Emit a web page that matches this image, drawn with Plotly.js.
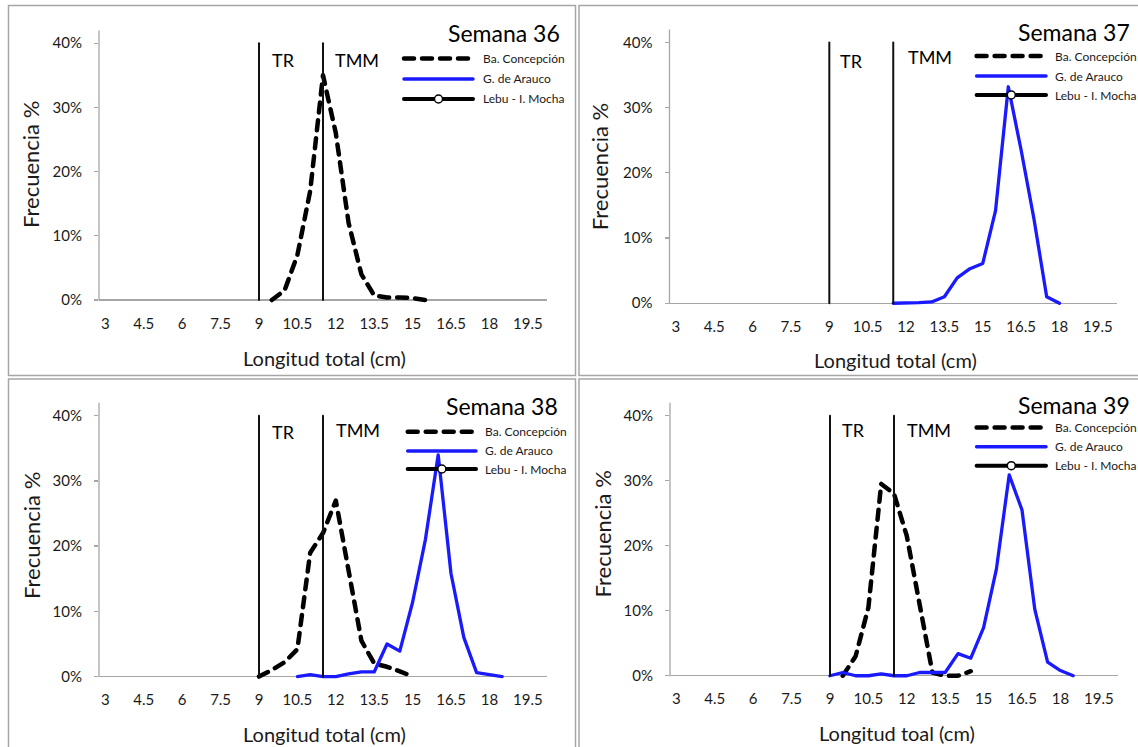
<!DOCTYPE html>
<html><head><meta charset="utf-8">
<script src="https://cdn.plot.ly/plotly-3.0.1.min.js"></script>
<style>
html,body{margin:0;padding:0;background:#fff;}
#chart{width:1138px;height:747px;}
.scatterlayer .js-line{stroke-linecap:round;stroke-linejoin:round;}
.shapelayer path{stroke-linecap:round;}
</style></head><body><div id="chart"></div>
<script>
// ---------- data ----------
const xTickVals = [3, 4.5, 6, 7.5, 9, 10.5, 12, 13.5, 15, 16.5, 18, 19.5];
const yTickVals = [0, 10, 20, 30, 40];
const yTickText = ['0%', '10%', '20%', '30%', '40%'];
const weekTitles = ['Semana 36', 'Semana 37', 'Semana 38', 'Semana 39'];
const xTitles = ['Longitud total (cm)', 'Longitud total (cm)', 'Longitud total (cm)', 'Longitud toal (cm)'];
const yTitle = 'Frecuencia %';
const seriesNames = ['Ba. Concepción', 'G. de Arauco', 'Lebu - I. Mocha'];
const refLineNames = ['TR', 'TMM'];
const refLineValues = [9, 11.5];

// Semana 36
const s36ConcX = [9.5, 10, 10.5, 11, 11.5, 12, 12.5, 13, 13.5, 14, 14.5, 15, 15.5];
const s36ConcY = [0, 1.5, 7, 17, 35, 26, 12, 4, 0.7, 0.4, 0.4, 0.3, 0];
const s36ArauX = [];
const s36ArauY = [];
// Semana 37
const s37ConcX = [];
const s37ConcY = [];
const s37ArauX = [11.5, 12, 12.5, 13, 13.5, 14, 14.5, 15, 15.5, 16, 16.5, 17, 17.5, 18];
const s37ArauY = [0, 0, 0.1, 0.2, 1.0, 3.9, 5.3, 6.1, 14.2, 33.2, 23.5, 13, 1.0, 0];
// Semana 38
const s38ConcX = [9, 9.5, 10, 10.5, 11, 11.5, 12, 12.5, 13, 13.5, 14, 14.5, 15];
const s38ConcY = [0, 1.0, 2.2, 4.2, 19, 22, 27, 16.5, 5.5, 2.0, 1.5, 0.8, 0];
const s38ArauX = [10.5, 11, 11.5, 12, 12.5, 13, 13.5, 14, 14.5, 15, 15.5, 16, 16.5, 17, 17.5, 18, 18.5];
const s38ArauY = [0, 0.3, 0, 0, 0.4, 0.7, 0.7, 5.0, 3.9, 11.4, 21, 34, 15.8, 6, 0.6, 0.3, 0];
// Semana 39
const s39ConcX = [9.5, 10, 10.5, 11, 11.5, 12, 12.5, 13, 13.5, 14, 14.5];
const s39ConcY = [0, 3, 10.5, 29.5, 28, 21.5, 11, 0.5, 0, 0, 0.7];
const s39ArauX = [9, 9.5, 10, 10.5, 11, 11.5, 12, 12.5, 13, 13.5, 14, 14.5, 15, 15.5, 16, 16.5, 17, 17.5, 18, 18.5];
const s39ArauY = [0, 0.5, 0, 0, 0.3, 0, 0, 0.5, 0.5, 0.5, 3.4, 2.7, 7.4, 16.4, 30.9, 25.5, 10.2, 2.1, 0.8, 0];
// Lebu - I. Mocha (no catches shown)
const lebuX = [];
const lebuY = [];

const concData = [[s36ConcX, s36ConcY], [s37ConcX, s37ConcY], [s38ConcX, s38ConcY], [s39ConcX, s39ConcY]];
const arauData = [[s36ArauX, s36ArauY], [s37ArauX, s37ArauY], [s38ArauX, s38ArauY], [s39ArauX, s39ArauY]];

// ---------- layout geometry (pixels) ----------
const W = 1138, H = 747;
const px = v => v / W, py = v => 1 - v / H;
const FONT = 'Lato, "Open Sans", sans-serif';
const TXT = '#1a1a1a';
const AXC = '#a6a6a6';
const BLUE = '#1a1aff';

const panels = [
  {plot: [99, 547, 30.4, 304.5], frame: [8.5, 575.5, 5.5, 375.5], title: [561.6, 33], tr: [270, 60], tmm: [332.6, 60],
   leg: {x0: 404, x1: 473, tx: 481, rows: [58.5, 79, 99]}, yt: [31, 165], xt: [324, 358]},
  {plot: [669.5, 1117, 29.4, 307.8], frame: [579, 1142, 5.5, 375.5], title: [1131.6, 32], tr: [838, 60.7], tmm: [905.5, 57.5],
   leg: {x0: 976.6, x1: 1046, tx: 1053, rows: [56, 76, 95]}, yt: [599.5, 166.7], xt: [895, 360]},
  {plot: [99, 547, 402.7, 681.1], frame: [8.5, 575.5, 379, 752], title: [559.8, 405.5], tr: [270, 431.7], tmm: [333.7, 430],
   leg: {x0: 407.7, x1: 476, tx: 483, rows: [431.7, 451, 469]}, yt: [31, 536], xt: [324.6, 734]},
  {plot: [670, 1118, 402.7, 680.3], frame: [579, 1142, 379, 752], title: [1131.6, 405], tr: [840, 430], tmm: [904.8, 430],
   leg: {x0: 976.6, x1: 1046, tx: 1053, rows: [427.5, 446.7, 465.7]}, yt: [602, 534.5], xt: [897, 733]}
];

const traces = [];
const shapes = [];
const annotations = [];
const layout = {
  width: W, height: H, margin: {l: 0, r: 0, t: 0, b: 0},
  paper_bgcolor: '#fff', plot_bgcolor: 'rgba(0,0,0,0)', showlegend: false,
  font: {family: FONT, color: TXT}
};

const DASH = '10px,8px';

panels.forEach((p, i) => {
  const n = i === 0 ? '' : String(i + 1);
  const xa = 'x' + n, ya = 'y' + n;
  layout['xaxis' + n] = {
    domain: [px(p.plot[0]), px(p.plot[1])], anchor: ya, range: [2.75, 20.25],
    tickmode: 'array', tickvals: xTickVals, ticktext: xTickVals.map(String), ticks: '',
    showgrid: false, zeroline: false, showline: false,
    tickfont: {family: FONT, size: 15, color: TXT}, ticklabelstandoff: 8, fixedrange: true
  };
  layout['yaxis' + n] = {
    domain: [py(p.plot[3]), py(p.plot[2])], anchor: xa, range: [-0.7, 42],
    tickmode: 'array', tickvals: yTickVals, ticktext: yTickText, ticks: 'outside', ticklen: 4, tickcolor: AXC, tickwidth: 1.3,
    showgrid: false, showline: false, zeroline: true, zerolinecolor: AXC, zerolinewidth: 1.3,
    tickfont: {family: FONT, size: 15, color: TXT}, ticklabelstandoff: 9, fixedrange: true
  };
  // y axis line
  shapes.push({type: 'line', xref: xa + ' domain', yref: ya, x0: 0, x1: 0, y0: 0, y1: 42,
    line: {color: AXC, width: 1.3}, layer: 'below'});
  // reference lines TR / TMM
  refLineValues.forEach(v => {
    shapes.push({type: 'line', xref: xa, yref: ya, x0: v, x1: v, y0: 0, y1: 40,
      line: {color: '#111', width: 2}, layer: 'above'});
  });
  // frame
  shapes.push({type: 'rect', xref: 'paper', yref: 'paper', x0: px(p.frame[0]), x1: px(p.frame[1]),
    y0: py(p.frame[3]), y1: py(p.frame[2]), line: {color: '#a6a6a6', width: 1.5}, fillcolor: 'rgba(0,0,0,0)'});

  // series
  traces.push({x: concData[i][0], y: concData[i][1], xaxis: xa, yaxis: ya, mode: 'lines', name: seriesNames[0],
    line: {color: '#000', width: 4.5, dash: DASH}, hoverinfo: 'skip'});
  traces.push({x: arauData[i][0], y: arauData[i][1], xaxis: xa, yaxis: ya, mode: 'lines', name: seriesNames[1],
    line: {color: BLUE, width: 3.3}, hoverinfo: 'skip'});
  traces.push({x: lebuX, y: lebuY, xaxis: xa, yaxis: ya, mode: 'lines+markers', name: seriesNames[2],
    line: {color: '#000', width: 4}, marker: {color: '#fff', size: 8, line: {color: '#000', width: 1.5}}, hoverinfo: 'skip'});

  // legend samples
  const L = p.leg;
  shapes.push({type: 'line', xref: 'paper', yref: 'paper', x0: px(L.x0), x1: px(L.x1), y0: py(L.rows[0]), y1: py(L.rows[0]),
    line: {color: '#000', width: 4.5, dash: DASH}});
  shapes.push({type: 'line', xref: 'paper', yref: 'paper', x0: px(L.x0), x1: px(L.x1), y0: py(L.rows[1]), y1: py(L.rows[1]),
    line: {color: BLUE, width: 3.5}});
  shapes.push({type: 'line', xref: 'paper', yref: 'paper', x0: px(L.x0), x1: px(L.x1), y0: py(L.rows[2]), y1: py(L.rows[2]),
    line: {color: '#000', width: 4}});
  const cx = (L.x0 + L.x1) / 2, r = 4;
  shapes.push({type: 'circle', xref: 'paper', yref: 'paper', x0: px(cx - r), x1: px(cx + r), y0: py(L.rows[2] + r), y1: py(L.rows[2] - r),
    line: {color: '#000', width: 1.5}, fillcolor: '#fff'});
  seriesNames.forEach((nm, k) => {
    annotations.push({xref: 'paper', yref: 'paper', x: px(L.tx), y: py(L.rows[k]), xanchor: 'left', yanchor: 'middle',
      text: nm, showarrow: false, font: {family: FONT, size: 12, color: TXT}});
  });

  // week title
  annotations.push({xref: 'paper', yref: 'paper', x: px(p.title[0]), y: py(p.title[1]), xanchor: 'right', yanchor: 'middle',
    text: weekTitles[i], showarrow: false, font: {family: FONT, size: 23, color: '#000'}});
  // TR / TMM labels
  annotations.push({xref: 'paper', yref: 'paper', x: px(p.tr[0]), y: py(p.tr[1]), xanchor: 'left', yanchor: 'middle',
    text: refLineNames[0], showarrow: false, font: {family: FONT, size: 18, color: '#000'}});
  annotations.push({xref: 'paper', yref: 'paper', x: px(p.tmm[0]), y: py(p.tmm[1]), xanchor: 'left', yanchor: 'middle',
    text: refLineNames[1], showarrow: false, font: {family: FONT, size: 18, color: '#000'}});
  // axis titles
  annotations.push({xref: 'paper', yref: 'paper', x: px(p.xt[0]), y: py(p.xt[1]), xanchor: 'center', yanchor: 'middle',
    text: xTitles[i], showarrow: false, font: {family: FONT, size: 20, color: TXT}});
  annotations.push({xref: 'paper', yref: 'paper', x: px(p.yt[0]), y: py(p.yt[1]), xanchor: 'center', yanchor: 'middle',
    text: yTitle, textangle: -90, showarrow: false, font: {family: FONT, size: 22, color: TXT}});
});

layout.shapes = shapes;
layout.annotations = annotations;
Plotly.newPlot('chart', traces, layout, {staticPlot: true, displayModeBar: false});
</script></body></html>
